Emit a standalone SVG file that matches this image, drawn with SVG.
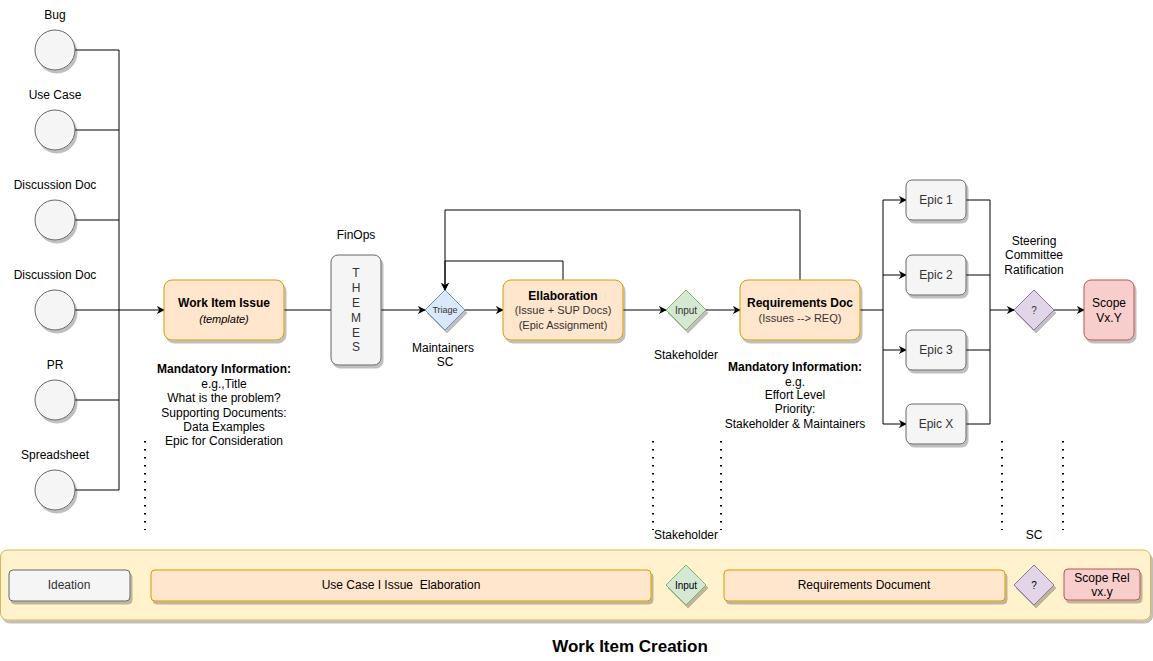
<svg xmlns="http://www.w3.org/2000/svg" width="1153" height="661" viewBox="0 0 1153 661">
<defs>
<marker id="arr" viewBox="0 0 10 10" refX="9" refY="5" markerWidth="8" markerHeight="8" markerUnits="userSpaceOnUse" orient="auto">
<path d="M0,0 L10,5 L0,10 L3,5 Z" fill="#000"/>
</marker>
<filter id="sh" x="-10%" y="-10%" width="130%" height="130%">
<feDropShadow dx="2" dy="3" stdDeviation="0.5" flood-color="#000" flood-opacity="0.25"/>
</filter>
</defs>
<style>
text{font-family:"Liberation Sans",Arial,sans-serif;font-size:12px;fill:#000;text-anchor:middle}
.b{font-weight:bold}
.i{font-style:italic}
.g{fill:#333}
.circ{fill:#f5f5f5;stroke:#666;stroke-width:1}
.org{fill:#ffe6cc;stroke:#d79b00;stroke-width:1}
.gry{fill:#f5f5f5;stroke:#666;stroke-width:1}
.blu{fill:#dae8fc;stroke:#6c8ebf;stroke-width:1}
.grn{fill:#d5e8d4;stroke:#82b366;stroke-width:1}
.pur{fill:#e1d5e7;stroke:#9673a6;stroke-width:1}
.red{fill:#f8cecc;stroke:#b85450;stroke-width:1}
.yel{fill:#fff2cc;stroke:#d6b656;stroke-width:1}
.ln{fill:none;stroke:#000;stroke-width:1}
.a{marker-end:url(#arr)}
.dot{fill:none;stroke:#000;stroke-width:2;stroke-dasharray:1.5 6.5}
</style>

<g id="connectors">
<path class="ln" d="M75,50 H119 V490 M75,130 H119 M75,220 H119 M75,400 H119 M75,490 H119"/>
<path class="ln a" d="M75,310 H164"/>
<path class="ln" d="M284,310 H331"/>
<path class="ln a" d="M381,310 H425"/>
<path class="ln a" d="M465,310 H503"/>
<path class="ln a" d="M563,280 V261 H445 V290"/>
<path class="ln a" d="M800,280 V210 H445 V290"/>
<path class="ln a" d="M623,310 H666"/>
<path class="ln a" d="M706,310 H740"/>
<path class="ln" d="M860,310 H883"/>
<path class="ln" d="M883,200 V424"/>
<path class="ln a" d="M883,200 H906"/>
<path class="ln a" d="M883,275 H906"/>
<path class="ln a" d="M883,350 H906"/>
<path class="ln a" d="M883,424 H906"/>
<path class="ln" d="M966,200 H990 V424 H966 M966,275 H990 M966,350 H990"/>
<path class="ln a" d="M990,310 H1014"/>
<path class="ln a" d="M1054,310 H1084"/>
<path class="dot" d="M145,441 V530"/>
<path class="dot" d="M653,441 V530"/>
<path class="dot" d="M721,441 V530"/>
<path class="dot" d="M1002,441 V530"/>
<path class="dot" d="M1063,441 V530"/>
</g>

<g id="src-bug"><circle class="circ" cx="55" cy="50" r="20" filter="url(#sh)"/><text x="55" y="19">Bug</text></g>
<g id="src-usecase"><circle class="circ" cx="55" cy="130" r="20" filter="url(#sh)"/><text x="55" y="99">Use Case</text></g>
<g id="src-disc1"><circle class="circ" cx="55" cy="220" r="20" filter="url(#sh)"/><text x="55" y="189">Discussion Doc</text></g>
<g id="src-disc2"><circle class="circ" cx="55" cy="310" r="20" filter="url(#sh)"/><text x="55" y="279">Discussion Doc</text></g>
<g id="src-pr"><circle class="circ" cx="55" cy="400" r="20" filter="url(#sh)"/><text x="55" y="369">PR</text></g>
<g id="src-sheet"><circle class="circ" cx="55" cy="490" r="20" filter="url(#sh)"/><text x="55" y="459">Spreadsheet</text></g>

<g id="work-item">
<rect class="org" x="164" y="280" width="120" height="60" rx="8" filter="url(#sh)"/>
<text class="b" x="224" y="307">Work Item Issue</text>
<text class="i" x="224" y="323" style="font-size:11px">(template)</text>
</g>
<g id="work-item-info">
<text class="b" x="224" y="373">Mandatory Information:</text>
<text x="224" y="388">e.g.,Title</text>
<text x="224" y="402">What is the problem?</text>
<text x="224" y="417">Supporting Documents:</text>
<text x="224" y="431">Data Examples</text>
<text x="224" y="445">Epic for Consideration</text>
</g>

<g id="themes">
<text x="356" y="239">FinOps</text>
<rect class="gry" x="331" y="255" width="50" height="110" rx="7" filter="url(#sh)"/>
<text class="g" x="356" y="277">T</text>
<text class="g" x="356" y="292">H</text>
<text class="g" x="356" y="307">E</text>
<text class="g" x="356" y="322">M</text>
<text class="g" x="356" y="337">E</text>
<text class="g" x="356" y="351">S</text>
</g>

<g id="triage">
<path class="blu" d="M445,290 L465,310 L445,330 L425,310 Z" filter="url(#sh)"/>
<text class="g" x="445" y="313" style="font-size:9px">Triage</text>
<text x="443" y="352">Maintainers</text>
<text x="445" y="366">SC</text>
</g>

<g id="elaboration">
<rect class="org" x="503" y="280" width="120" height="60" rx="8" filter="url(#sh)"/>
<text class="b" x="563" y="300">Ellaboration</text>
<text class="g" x="563" y="314" style="font-size:11px">(Issue + SUP Docs)</text>
<text class="g" x="563" y="329" style="font-size:11px">(Epic Assignment)</text>
</g>

<g id="input">
<path class="grn" d="M686,290 L706,310 L686,330 L666,310 Z" filter="url(#sh)"/>
<text class="g" x="686" y="314" style="font-size:10px">Input</text>
<text x="686" y="359">Stakeholder</text>
</g>

<g id="req-doc">
<rect class="org" x="740" y="280" width="120" height="60" rx="8" filter="url(#sh)"/>
<text class="b" x="800" y="307">Requirements Doc</text>
<text class="g" x="800" y="322" style="font-size:11px">(Issues --&gt; REQ)</text>
</g>
<g id="req-info">
<text class="b" x="795" y="371">Mandatory Information:</text>
<text x="795" y="386">e.g.</text>
<text x="795" y="399">Effort Level</text>
<text x="795" y="413">Priority:</text>
<text x="795" y="428">Stakeholder &amp; Maintainers</text>
</g>

<g id="epic1"><rect class="gry" x="906" y="180" width="60" height="40" rx="6" filter="url(#sh)"/><text class="g" x="936" y="204">Epic 1</text></g>
<g id="epic2"><rect class="gry" x="906" y="255" width="60" height="40" rx="6" filter="url(#sh)"/><text class="g" x="936" y="279">Epic 2</text></g>
<g id="epic3"><rect class="gry" x="906" y="330" width="60" height="40" rx="6" filter="url(#sh)"/><text class="g" x="936" y="354">Epic 3</text></g>
<g id="epicx"><rect class="gry" x="906" y="404" width="60" height="40" rx="6" filter="url(#sh)"/><text class="g" x="936" y="428">Epic X</text></g>

<g id="ratification">
<text x="1034" y="245">Steering</text>
<text x="1034" y="259">Committee</text>
<text x="1034" y="274">Ratification</text>
<path class="pur" d="M1034,290 L1054,310 L1034,330 L1014,310 Z" filter="url(#sh)"/>
<text class="g" x="1034" y="314" style="font-size:10px">?</text>
</g>

<g id="scope">
<rect class="red" x="1084" y="280" width="50" height="60" rx="7" filter="url(#sh)"/>
<text x="1109" y="307">Scope</text>
<text x="1109" y="322">Vx.Y</text>
</g>

<g id="dotted-labels">
<text x="686" y="539">Stakeholder</text>
<text x="1034" y="539">SC</text>
</g>

<g id="lane">
<rect class="yel" x="0.5" y="550" width="1150" height="70" rx="7" filter="url(#sh)"/>
</g>
<g id="lane-ideation"><rect class="gry" x="9" y="570" width="121" height="31" rx="4" filter="url(#sh)"/><text class="g" x="69" y="589">Ideation</text></g>
<g id="lane-usecase"><rect class="org" x="151" y="570" width="500" height="31" rx="4" filter="url(#sh)"/><text x="401" y="589" xml:space="preserve" style="white-space:pre">Use Case I Issue  Elaboration</text></g>
<g id="lane-input"><path class="grn" d="M686,565 L706,585 L686,605 L666,585 Z" filter="url(#sh)"/><text x="686" y="589" style="font-size:10px">Input</text></g>
<g id="lane-req"><rect class="org" x="724" y="570" width="281" height="31" rx="4" filter="url(#sh)"/><text x="864" y="589">Requirements Document</text></g>
<g id="lane-q"><path class="pur" d="M1034,565 L1054,585 L1034,605 L1014,585 Z" filter="url(#sh)"/><text x="1034" y="589" style="font-size:10px">?</text></g>
<g id="lane-scope"><rect class="red" x="1064" y="569" width="76" height="31" rx="4" filter="url(#sh)"/><text x="1102" y="582">Scope Rel</text><text x="1102" y="596">vx.y</text></g>

<g id="title"><text class="b" x="630" y="652" style="font-size:17px">Work Item Creation</text></g>
</svg>
